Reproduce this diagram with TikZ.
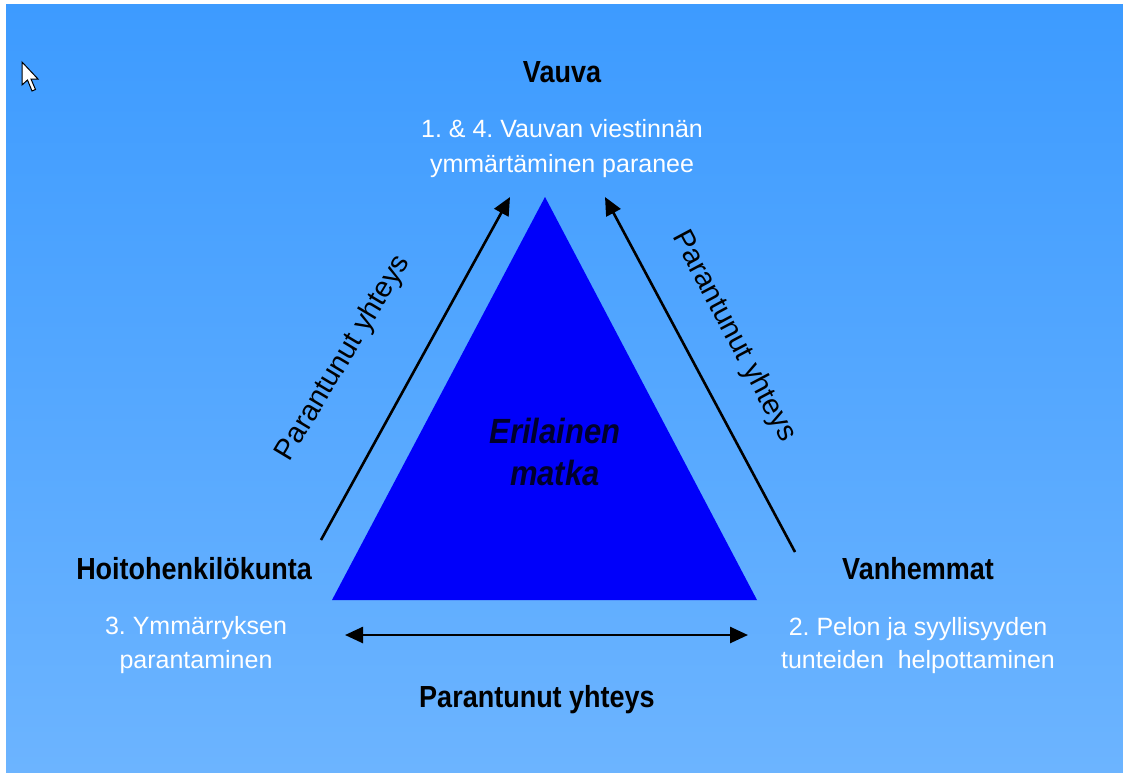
\documentclass[tikz,border=0pt]{standalone}
\usepackage{fontspec}
\setmainfont{Liberation Sans}
\usetikzlibrary{arrows.meta}
\definecolor{bgtop}{RGB}{61,155,255}
\definecolor{bgbot}{RGB}{108,180,255}
\definecolor{tri}{RGB}{0,0,250}
\definecolor{navy}{RGB}{0,0,45}
\newcommand{\tallb}[1]{\scalebox{1}[1.13]{#1}}
\tikzset{
  role/.style={anchor=base, inner sep=0pt, text=black, font=\bfseries\fontsize{27}{32}\selectfont},
  goal/.style={anchor=base, inner sep=0pt, text=white, font=\fontsize{25}{30}\selectfont},
  link/.style={anchor=base, inner sep=0pt, text=black, font=\fontsize{29}{34}\selectfont},
  conn/.style={line width=2.6pt, black, -{Triangle[length=18pt,width=16pt]}},
  conn2/.style={line width=2.6pt, black, {Triangle[length=18pt,width=16pt]}-{Triangle[length=18pt,width=16pt]}},
}
\begin{document}
\frenchspacing
\begin{tikzpicture}[x=1pt,y=-1pt]
\useasboundingbox (0,0) rectangle (1123,772);
\fill[white] (0,0) rectangle (1123,772);
\shade[top color=bgtop, bottom color=bgbot] (6,4) rectangle (1123,772);
% mouse cursor
\filldraw[fill=white, draw=black, line width=1pt, line join=miter]
  (22,62) -- (22,85) -- (27.5,80) -- (32,91) -- (35.5,89.5) -- (31,79) -- (38,79) -- cycle;
% triangle
\coordinate (apex) at (545,197);
\coordinate (bl) at (332,600);
\coordinate (br) at (757,600);
\fill[tri] (apex) -- (bl) -- (br) -- cycle;
\node[anchor=base, inner sep=0pt, text=navy, font=\bfseries\itshape\fontsize{31}{36}\selectfont] (er) at (555,443) {\tallb{Erilainen}};
\node[anchor=base, inner sep=0pt, text=navy, font=\bfseries\itshape\fontsize{31}{36}\selectfont] (ma) at (555,485) {\tallb{matka}};
% arrows
\coordinate (lat) at (321,540);
\coordinate (lah) at (510,197);
\coordinate (rat) at (795,552);
\coordinate (rah) at (605,197);
\coordinate (ha) at (345,635);
\coordinate (hb) at (748,635);
\draw[conn] (lat) -- (lah);
\draw[conn] (rat) -- (rah);
\draw[conn2] (ha) -- (hb);
% labels on arrows
\node[link, rotate=59] (ll) at (350,362) {Parantunut yhteys};
\node[link, rotate=-62] (rl) at (727,340) {Parantunut yhteys};
\node[role] (bl2) at (537,707) {\tallb{Parantunut yhteys}};
% top
\node[role] (vauva) at (562,82) {\tallb{Vauva}};
\node[goal] (v1) at (562,137) {1. \& 4. Vauvan viestinnän};
\node[goal] (v2) at (562,172) {ymmärtäminen paranee};
% left
\node[role] (hoito) at (194,579) {\tallb{Hoitohenkilökunta}};
\node[goal] (h1) at (196,634) {3. Ymmärryksen};
\node[goal] (h2) at (196,668) {parantaminen};
% right
\node[role] (vanh) at (918,579) {\tallb{Vanhemmat}};
\node[goal] (p1) at (918,635) {2. Pelon ja syyllisyyden};
\node[goal] (p2) at (918,668) {tunteiden\ \ helpottaminen};
\end{tikzpicture}
\end{document}
